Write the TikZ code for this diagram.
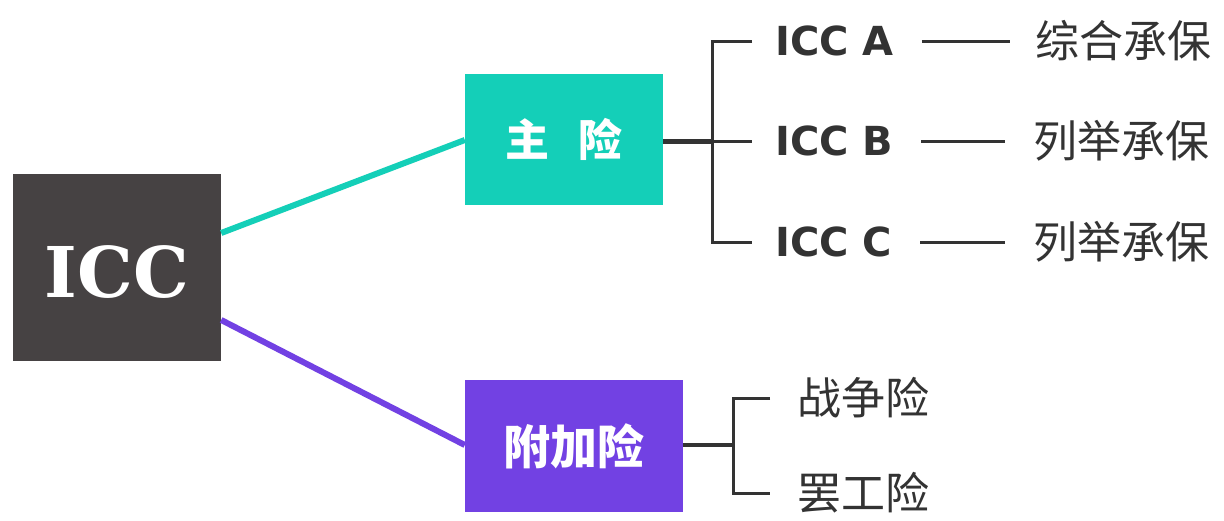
\documentclass[tikz,border=0pt]{standalone}
\usepackage{fontspec}
\newfontfamily\cjk{Noto Sans CJK SC}
\newfontfamily\iccserif{DejaVu Serif}
\newfontfamily\iccsans{DejaVu Sans}
\definecolor{boxdark}{HTML}{464243}
\definecolor{teal1}{HTML}{14CFB8}
\definecolor{purp1}{HTML}{7241E3}
\definecolor{ink}{HTML}{333333}
\tikzset{
  mainbox/.style={draw=none, inner sep=0pt, text=white},
  brk/.style={draw=ink, line width=3pt},
  stub/.style={draw=ink, line width=5pt},
  latin/.style={inner sep=0pt, anchor=west, text=ink, font=\iccsans\bfseries\fontsize{40}{40}\selectfont},
  zh/.style={inner sep=0pt, anchor=west, text=ink, font=\cjk\fontsize{44}{44}\selectfont},
  dashline/.style={draw=ink, line width=3pt},
}
\begin{document}
\begin{tikzpicture}[x=1pt,y=-1pt]
\useasboundingbox (0,0) rectangle (1224,520);
\fill[white] (0,0) rectangle (1224,520);
% main boxes
\node[mainbox, fill=boxdark, minimum width=208pt, minimum height=187pt] (icc) at (117,267.5) {};
\node[text=white, font=\iccserif\bfseries\fontsize{70}{70}\selectfont, inner sep=0pt] (icct) at (117,272) {ICC};
\node[mainbox, fill=teal1, minimum width=198pt, minimum height=131pt, font=\cjk\bfseries\fontsize{44}{44}\selectfont] (zx) at (564,139.5) {主\hspace{30pt}险};
\node[mainbox, fill=purp1, minimum width=218pt, minimum height=132pt, font=\cjk\bfseries\fontsize{47}{47}\selectfont] (fj) at (574,446) {附加险};
% connectors from ICC
\draw[teal1, line width=6pt] ([yshift=34.5pt]icc.east) -- ([yshift=-0.5pt]zx.west);
\draw[purp1, line width=6pt] ([yshift=-52.5pt]icc.east) -- ([yshift=1pt]fj.west);
% ICC A/B/C
\node[latin] (ta) at (775,41) {ICC A};
\node[latin] (tb) at (775,141) {ICC B};
\node[latin] (tc) at (775,242) {ICC C};
\node[zh] (za) at (1035,41) {综合承保};
\node[zh] (zb) at (1033,141) {列举承保};
\node[zh] (zc) at (1033,242) {列举承保};
\draw[dashline, shorten <=28pt, shorten >=25pt] (ta.east) -- (za.west);
\draw[dashline, shorten <=28pt, shorten >=28pt] (tb.east) -- (zb.west);
\draw[dashline, shorten <=28pt, shorten >=28pt] (tc.east) -- (zc.west);
\coordinate (jA) at (712,141);
\draw[stub] ([yshift=-1.5pt]zx.east) -- (jA);
\draw[brk] ([xshift=-23pt]ta.west) -| (jA) |- ([xshift=-23pt]tc.west);
\draw[brk] (jA) -- ([xshift=-23pt]tb.west);
% 附加险 branches
\node[zh] (zz) at (797,398) {战争险};
\node[zh] (bg) at (797,493) {罢工险};
\coordinate (jB) at (733,445);
\draw[stub, line width=4pt] ([yshift=1pt]fj.east) -- (jB);
\draw[brk] ([xshift=-27pt]zz.west) -| (jB) |- ([xshift=-27pt]bg.west);
\end{tikzpicture}
\end{document}
